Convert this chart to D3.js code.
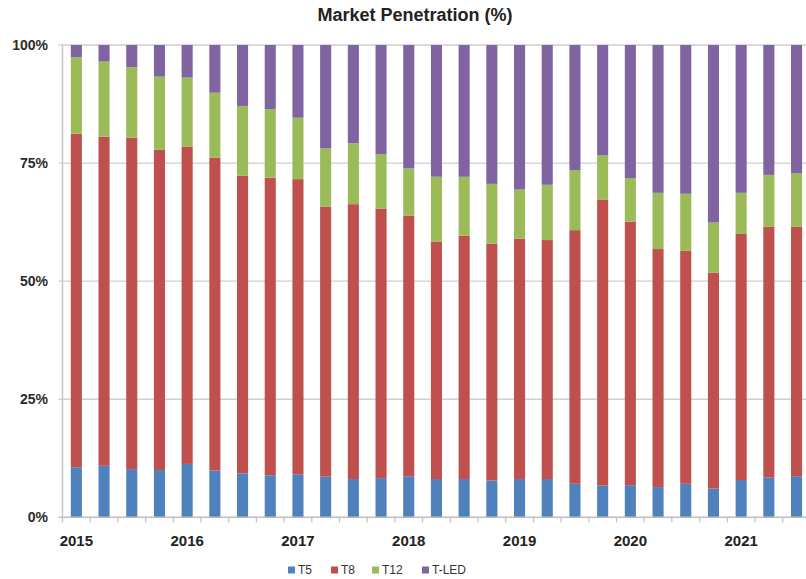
<!DOCTYPE html>
<html>
<head>
<meta charset="utf-8">
<script src="https://cdn.jsdelivr.net/npm/d3@7"></script>
<style>
  html, body { margin: 0; padding: 0; background: #ffffff; }
  svg { display: block; }
  text { font-family: "Liberation Sans", Arial, sans-serif; }
</style>
</head>
<body>
<svg id="chart" width="806" height="579"></svg>
<script>
// ---- data ----
const quarters = [
  "2015 Q1","2015 Q2","2015 Q3","2015 Q4",
  "2016 Q1","2016 Q2","2016 Q3","2016 Q4",
  "2017 Q1","2017 Q2","2017 Q3","2017 Q4",
  "2018 Q1","2018 Q2","2018 Q3","2018 Q4",
  "2019 Q1","2019 Q2","2019 Q3","2019 Q4",
  "2020 Q1","2020 Q2","2020 Q3","2020 Q4",
  "2021 Q1","2021 Q2","2021 Q3"
];
const yearLabels = ["2015","2016","2017","2018","2019","2020","2021"];
const seriesNames = ["T5","T8","T12","T-LED"];
const t5   = [10.6,10.9,10.2,10.0,11.3,9.9,9.3,8.9,9.1,8.6,8.1,8.3,8.7,8.1,8.1,7.8,8.1,8.1,7.1,6.7,6.8,6.4,7.1,6.1,7.9,8.4,8.7];
const t8   = [70.6,69.7,70.2,67.8,67.2,66.2,63.0,63.0,62.5,57.2,58.2,57.0,55.2,50.3,51.5,50.1,50.9,50.6,53.7,60.6,55.8,50.4,49.3,45.7,52.1,53.1,52.8];
const t12  = [16.2,15.9,14.9,15.5,14.6,13.8,14.8,14.5,13.0,12.3,12.9,11.6,10.0,13.7,12.5,12.7,10.4,11.7,12.7,9.3,9.2,11.9,12.1,10.6,8.7,11.0,11.3];
const tled = [2.6,3.5,4.7,6.7,6.9,10.1,12.9,13.6,15.4,21.9,20.8,23.1,26.1,27.9,27.9,29.4,30.6,29.6,26.5,23.4,28.2,31.3,31.5,37.6,31.3,27.5,27.2];
const yTicks = [0, 25, 50, 75, 100];
const colors = ["#4F81BD", "#C0504D", "#9BBB59", "#8064A2"];

// ---- layout ----
const svg = d3.select("#chart");
const plotLeft = 62.5, plotBottom = 517.3, plotTop = 45, step = 27.7;
const plotRight = plotLeft + step * quarters.length;

const rows = quarters.map((q, i) => ({
  q: q, "T5": t5[i], "T8": t8[i], "T12": t12[i], "T-LED": tled[i]
}));
const stacked = d3.stack().keys(seriesNames)(rows);

const x = d3.scaleBand().domain(quarters).range([plotLeft, plotRight])
  .paddingInner(0.6).paddingOuter(0.3);
const y = d3.scaleLinear().domain([0, 100]).range([plotBottom, plotTop]);
const color = d3.scaleOrdinal().domain(seriesNames).range(colors);

// gridlines
svg.append("g").selectAll("line").data(yTicks.filter(d => d > 0)).join("line")
  .attr("x1", plotLeft - 4).attr("x2", 806)
  .attr("y1", d => y(d)).attr("y2", d => y(d))
  .attr("stroke", "#cfcfcf").attr("stroke-width", 1.3);

// y axis line
svg.append("line").attr("x1", plotLeft).attr("x2", plotLeft)
  .attr("y1", y(100)).attr("y2", y(0))
  .attr("stroke", "#c8c8c8").attr("stroke-width", 1.5);

// y labels
svg.append("g").selectAll("text").data(yTicks).join("text")
  .attr("x", 48).attr("y", d => y(d)).attr("dy", "0.36em")
  .attr("text-anchor", "end")
  .attr("font-size", 14).attr("font-weight", "bold").attr("fill", "#2b2b2b")
  .text(d => d + "%");

// bars
svg.append("g").selectAll("g").data(stacked).join("g")
  .attr("fill", d => color(d.key))
  .selectAll("rect").data(d => d).join("rect")
  .attr("x", d => x(d.data.q))
  .attr("width", x.bandwidth())
  .attr("y", d => y(d[1]))
  .attr("height", d => y(d[0]) - y(d[1]));

// x axis line
svg.append("line").attr("x1", plotLeft - 4).attr("x2", 806)
  .attr("y1", plotBottom).attr("y2", plotBottom)
  .attr("stroke", "#bdbdbd").attr("stroke-width", 1.5);

// x ticks at category boundaries
const boundaries = d3.range(quarters.length + 1);
svg.append("g").selectAll("line").data(boundaries).join("line")
  .attr("x1", i => plotLeft + i * x.step()).attr("x2", i => plotLeft + i * x.step())
  .attr("y1", plotBottom).attr("y2", plotBottom + 5)
  .attr("stroke", "#bdbdbd").attr("stroke-width", 1.2);

// year labels under the first quarter of each year
svg.append("g").selectAll("text").data(yearLabels).join("text")
  .attr("x", d => x(d + " Q1") + x.bandwidth() / 2)
  .attr("y", 546)
  .attr("text-anchor", "middle")
  .attr("font-size", 15).attr("font-weight", "bold").attr("fill", "#222")
  .text(d => d);

// title
svg.append("text").attr("x", 415).attr("y", 21)
  .attr("text-anchor", "middle")
  .attr("font-size", 18).attr("font-weight", "bold").attr("fill", "#222")
  .text("Market Penetration (%)");

// legend
const legendX = [288, 331, 372, 422];
const lg = svg.append("g").selectAll("g").data(seriesNames).join("g")
  .attr("transform", (d, i) => `translate(${legendX[i]},570)`);
lg.append("rect").attr("x", 0).attr("y", -3.5).attr("width", 7).attr("height", 7)
  .attr("fill", d => color(d));
lg.append("text").attr("x", 10).attr("y", 0).attr("dy", "0.36em")
  .attr("font-size", 12).attr("fill", "#333")
  .text(d => d);
</script>
</body>
</html>
